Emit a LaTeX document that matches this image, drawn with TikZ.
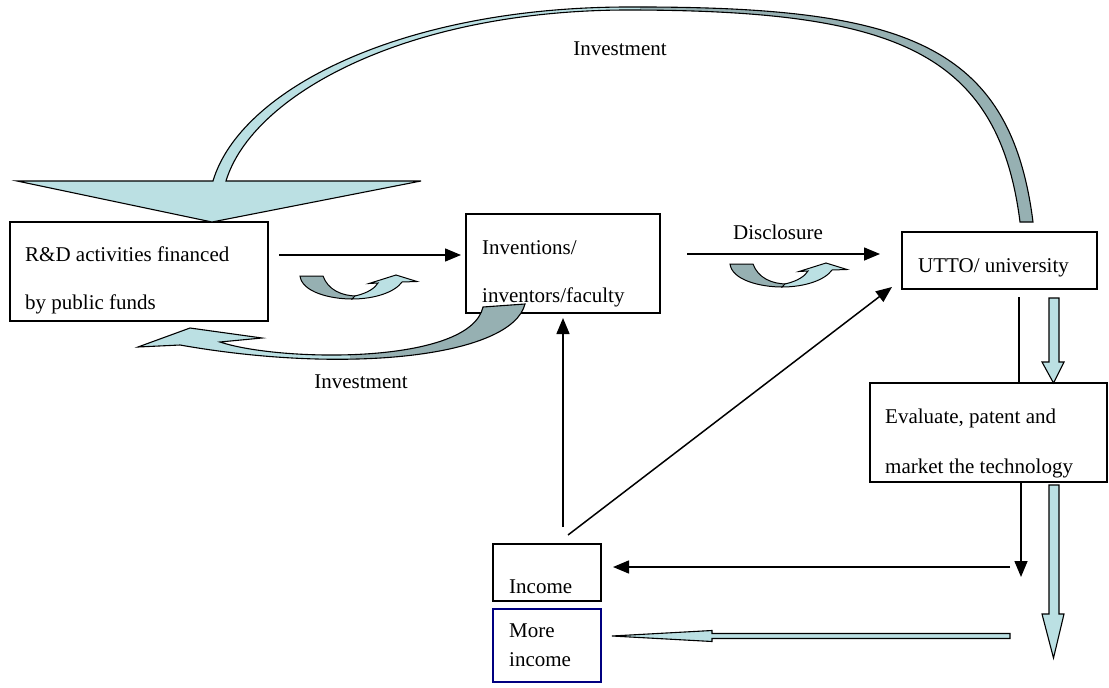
\documentclass[tikz,border=0pt]{standalone}
\usepackage{fontspec}
\setmainfont{Liberation Serif}
\usetikzlibrary{arrows.meta,calc}
\definecolor{paleblue}{RGB}{187,224,227}
\definecolor{greyteal}{RGB}{150,176,178}
\definecolor{navyline}{RGB}{0,0,128}

% outline of the large arched arrow (UTTO back to R&D)
\def\arcpath{(17,181) -- (213,181) .. controls (240,90) and (400,8) .. (625,7)
  .. controls (900,6) and (1010,40) .. (1033,222) -- (1020,222)
  .. controls (998,48) and (890,10) .. (625,10)
  .. controls (405,11) and (252,95) .. (226,181) -- (421,181) -- (212,222) -- cycle}
% outline of the curved arrow from the inventions box back to R&D
\def\retpath{(138,347) -- (190,328) -- (262,338) -- (220,342)
  .. controls (280,362) and (470,365) .. (483,307) -- (525,304)
  .. controls (512,356) and (350,375) .. (180,345) -- cycle}

\begin{document}
\begin{tikzpicture}[x=1pt,y=-1pt,
  box/.style={draw, line width=1.6pt, inner sep=0pt, outer sep=0pt},
  lbl/.style={font=\fontsize{21}{25}\selectfont, inner sep=0pt, anchor=base west},
  freelbl/.style={font=\fontsize{21}{25}\selectfont, inner sep=0pt, anchor=base},
  arr/.style={line width=1.5pt, -{Triangle[length=16pt,width=13pt]}},
  plainline/.style={line width=1.5pt},
  blk/.style={draw, line width=1.1pt, fill=paleblue, line join=miter},
  bandline/.style={line width=1.1pt, line join=miter},
  uturn/.pic={
    \filldraw[fill=greyteal, line width=1pt]
      (0,0) -- (23,0) .. controls (28,14) and (42,20) .. (57,20) -- (52,23)
      .. controls (30,23) and (2,16) .. (0,0) -- cycle;
    \filldraw[fill=paleblue, line width=1pt]
      (55,20) .. controls (68,17) and (75,12) .. (78,7) -- (69,7.5) -- (96,-1)
      -- (117,5.5) -- (102,6) .. controls (95,16) and (75,23) .. (52,23) -- cycle;
  }
]
\useasboundingbox (0,0) rectangle (1109,688);
\fill[white] (0,0) rectangle (1109,688);

% boxes
\node[box, minimum width=258pt, minimum height=99pt] (rd)   at (139,271.5) {};
\node[box, minimum width=194pt, minimum height=99pt] (inv)  at (563,263.5) {};
\node[box, minimum width=195pt, minimum height=57pt] (utto) at (999.5,260.5) {};
\node[box, minimum width=237pt, minimum height=99pt] (eval) at (988.5,432.5) {};
\node[box, minimum width=108pt, minimum height=57pt] (inc)  at (547,572.5) {};
\node[box, draw=navyline, minimum width=108pt, minimum height=73pt] (more) at (547,645.5) {};

% box texts
\node[lbl] (rdA)   at (25,261)  {R\&D activities financed};
\node[lbl] (rdB)   at (25,309)  {by public funds};
\node[lbl] (invA)  at (482,254) {Inventions/};
\node[lbl] (invB)  at (482,302) {inventors/faculty};
\node[lbl] (uttoA) at (918,272) {UTTO/ university};
\node[lbl] (evalA) at (885,423) {Evaluate, patent and};
\node[lbl] (evalB) at (885,473) {market the technology};
\node[lbl] (incA)  at (509,593) {Income};
\node[lbl] (moreA) at (509,637) {More};
\node[lbl] (moreB) at (509,666) {income};

% free labels
\node[freelbl] (topinv) at (620,55)  {Investment};
\node[freelbl] (disc)   at (778,239) {Disclosure};
\node[freelbl] (lowinv) at (361,388) {Investment};

% thin connectors
\draw[arr] ($(rd.east)+(11,-16.5)$) -- ($(inv.west)+(-5,-8.5)$);
\draw[arr] ($(inv.east)+(27,-9.5)$) -- ($(utto.west)+(-22,-6.5)$);
\draw[arr] ($(inc.north)+(16,-17)$) -- ($(inv.south)+(0,5)$);
\draw[arr] ($(inc.north)+(21,-9)$) -- ($(utto.south west)+(-10,-2)$);
\draw[plainline] ($(utto.south)+(19.5,8)$) -- ($(eval.north)+(30.5,0)$);
\coordinate (dropend)   at ($(eval.south)+(32.5,95)$);
\coordinate (backstart) at ($(eval.south)+(21.5,85)$);
\draw[arr] ($(eval.south)+(32.5,0)$) -- (dropend);
\draw[arr] (backstart) -- ($(inc.east)+(12,-5.5)$);

% block arrows
\draw[blk] ($(utto.south)+(49.5,9)$) -- ++(10,0) -- ++(0,64) -- ++(5,0)
  -- ++(-10.5,21) -- ++(-11.5,-21) -- ++(7,0) -- cycle;
\draw[blk] ($(eval.south)+(60.5,3)$) -- ++(10,0) -- ++(0,129) -- ++(5,0)
  -- ++(-10.5,44) -- ++(-11.5,-44) -- ++(7,0) -- cycle;
\draw[blk] ($(more.east)+(11,-9.5)$) -- ++(100,-5.5) -- ++(0,3) -- ++(298,0)
  -- ++(0,5) -- ++(-298,0) -- ++(0,3) -- cycle;

% arched arrow over the top
\fill[paleblue] \arcpath;
\begin{scope}
  \clip (640,0) rectangle (1109,688);
  \fill[greyteal] \arcpath;
\end{scope}
\draw[bandline] \arcpath;

% curved return arrow below
\fill[paleblue] \retpath;
\begin{scope}
  \clip (350,0) rectangle (1109,688);
  \fill[greyteal] \retpath;
\end{scope}
\draw[bandline] \retpath;

% small turning arrows under the horizontal connectors
\pic (turnA) at (300,276) {uturn};
\pic (turnB) at (730,264) {uturn};
\end{tikzpicture}
\end{document}
